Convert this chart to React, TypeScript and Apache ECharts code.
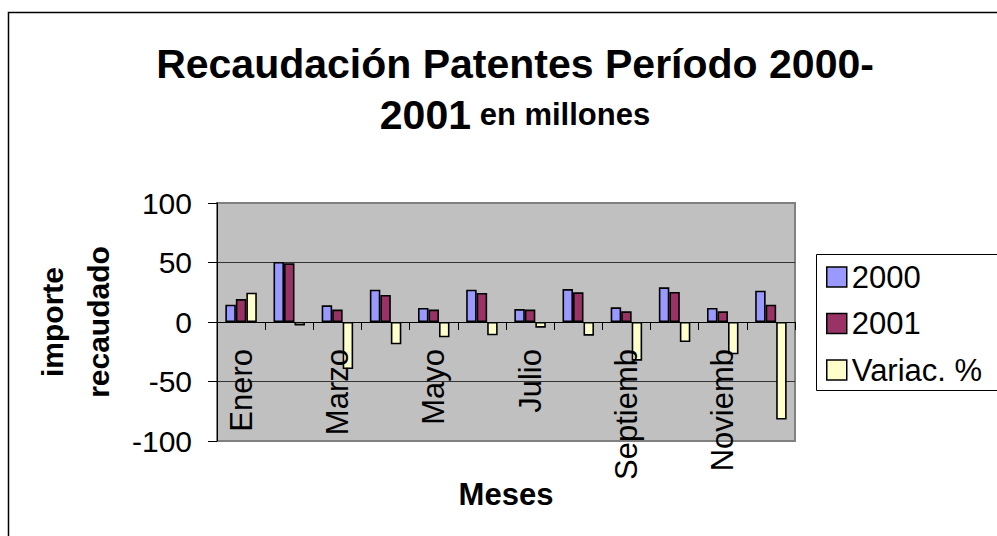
import React, { useEffect, useRef } from "react";
import * as echarts from "echarts";

const months = ["Enero", "Febrero", "Marzo", "Abril", "Mayo", "Junio", "Julio", "Agosto", "Septiemb", "Octubre", "Noviemb", "Diciembre"];
const values2000 = [14.6, 50.4, 14, 27.2, 11.8, 27.2, 10.9, 27.7, 12.3, 29.1, 11.8, 26.3];
const values2001 = [19.3, 49.3, 10.4, 22.7, 10.4, 24.4, 10.4, 24.9, 9, 25.2, 9, 14.6];
const variacion = [24.6, -3, -39.5, -18.8, -12.9, -11.2, -4.8, -11.5, -32.5, -16.8, -27.2, -82];
const seriesNames = ["2000", "2001", "Variac. %"];
const seriesColors = ["#9999FF", "#993366", "#FFFFCC"];

const FONT = "'Liberation Sans', Arial, sans-serif";

export default function App() {
  const ref = useRef<HTMLDivElement>(null);
  useEffect(() => {
    if (!ref.current) return;
    const chart = echarts.init(ref.current, undefined, { renderer: "svg" });
    const data = [values2000, values2001, variacion];
    chart.setOption({
      animation: false,
      backgroundColor: "#ffffff",
      textStyle: { fontFamily: FONT },
      title: {
        text: "{a|Recaudación Patentes Período 2000-}\n{a|2001}{b| en millones}",
        left: 510,
        top: 33,
        textAlign: "center",
        textStyle: {
          rich: {
            a: { fontSize: 41, fontWeight: "bold", color: "#000", fontFamily: FONT, lineHeight: 51 },
            b: { fontSize: 31, fontWeight: "bold", color: "#000", fontFamily: FONT, lineHeight: 51 },
          },
        },
      },
      graphic: [
        {
          type: "rect",
          z: -10,
          shape: { x: 8.5, y: 12.5, width: 1200, height: 800 },
          style: { fill: "none", stroke: "#000", lineWidth: 1.5 },
        },
        {
          type: "rect",
          z: 1,
          shape: { x: 816.5, y: 254.5, width: 300, height: 136 },
          style: { fill: "#fff", stroke: "#000", lineWidth: 1 },
        },
      ],
      legend: {
        orient: "vertical",
        left: 826,
        top: 261,
        padding: 0,
        itemWidth: 20,
        itemHeight: 20,
        itemGap: 14.5,
        icon: "rect",
        itemStyle: { borderColor: "#000", borderWidth: 1.5 },
        textStyle: { fontSize: 31, color: "#000", fontFamily: FONT, lineHeight: 32 },
        data: seriesNames,
      },
      grid: {
        left: 217,
        right: 202,
        top: 203,
        bottom: 95,
        show: true,
        containLabel: false,
        outerBoundsMode: "none",
        backgroundColor: "#C0C0C0",
        borderColor: "#808080",
        borderWidth: 2,
      },
      xAxis: {
        type: "category",
        data: months,
        z: 5,
        name: "Meses",
        nameLocation: "middle",
        nameGap: 38,
        nameMoveOverlap: false,
        nameTextStyle: { fontSize: 31, fontWeight: "bold", color: "#000", fontFamily: FONT },
        axisLine: { onZero: true, lineStyle: { color: "#000", width: 1 } },
        axisTick: { show: true, interval: 0, length: 8, lineStyle: { color: "#000" } },
        axisLabel: { interval: 1, rotate: 90, margin: -92, fontSize: 31, color: "#000", fontFamily: FONT },
        splitLine: { show: false },
      },
      yAxis: {
        type: "value",
        min: -100,
        max: 100,
        interval: 50,
        name: "importe\nrecaudado",
        nameLocation: "middle",
        nameRotate: 90,
        nameGap: 91,
        nameTextStyle: { fontSize: 30, fontWeight: "bold", color: "#000", fontFamily: FONT, lineHeight: 46, align: "center" },
        axisLine: { show: true, lineStyle: { color: "#000", width: 1 } },
        axisTick: { show: true, length: 9, lineStyle: { color: "#000" } },
        axisLabel: { fontSize: 30, color: "#000", margin: 25, fontFamily: FONT },
        splitLine: { show: true, lineStyle: { color: ["#808080", "#333", "#333", "#333", "#808080"], width: 1 } },
      },
      series: seriesNames.map((name, i) => ({
        name,
        type: "bar",
        data: data[i],
        barWidth: 10.5,
        barGap: "0%",
        itemStyle: { color: seriesColors[i], borderColor: "#000", borderWidth: 1.6 },
      })),
    });
    return () => chart.dispose();
  }, []);
  return <div ref={ref} style={{ position: "fixed", left: 0, top: 0, width: 997, height: 536 }} />;
}
